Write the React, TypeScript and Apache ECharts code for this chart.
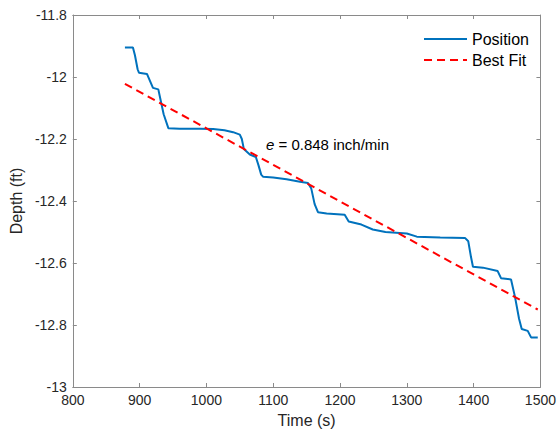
import React, { useEffect, useRef } from "react";
import * as echarts from "echarts";

const timeS = [878, 890, 893, 897, 899, 911, 915, 920, 928, 931, 936, 943, 960, 990, 1010, 1027, 1040, 1050, 1053, 1056, 1065, 1074, 1078, 1082, 1085, 1100, 1120, 1140, 1152, 1157, 1162, 1167, 1180, 1207, 1213, 1232, 1249, 1268, 1300, 1315, 1350, 1387, 1392, 1396, 1399, 1414, 1436, 1441, 1456, 1462, 1468, 1472, 1481, 1486, 1496];
const depthFt = [-11.905, -11.905, -11.93, -11.975, -11.986, -11.99, -12.01, -12.035, -12.04, -12.07, -12.12, -12.165, -12.167, -12.167, -12.168, -12.172, -12.178, -12.186, -12.2, -12.232, -12.25, -12.258, -12.285, -12.315, -12.322, -12.324, -12.33, -12.338, -12.342, -12.36, -12.41, -12.436, -12.44, -12.444, -12.466, -12.476, -12.492, -12.5, -12.505, -12.515, -12.518, -12.519, -12.53, -12.58, -12.612, -12.615, -12.626, -12.649, -12.653, -12.71, -12.78, -12.813, -12.819, -12.84, -12.84];
const fitTime = [878, 1496];
const fitDepth = [-12.022, -12.750];
const xTicks = [800, 1500, 100];
const yTicks = [-13, -11.8, 0.2];

export default function App() {
  const ref = useRef<HTMLDivElement>(null);
  useEffect(() => {
    if (!ref.current) return;
    const chart = echarts.init(ref.current, null, { renderer: "svg" });
    const font = "Liberation Sans, Arial, sans-serif";
    const axisColor = "#8a8a8a";
    const textColor = "#262626";
    const common = {
      axisLine: { show: true, lineStyle: { color: axisColor, width: 1 } },
      axisTick: { show: true, inside: true, length: 4, lineStyle: { color: axisColor } },
      splitLine: { show: false },
    };
    chart.setOption({
      animation: false,
      backgroundColor: "#ffffff",
      grid: { left: 69, right: 16, top: 15, bottom: 46, containLabel: false },
      legend: {
        left: 423,
        top: 31,
        padding: 0,
        orient: "vertical",
        itemWidth: 43,
        itemHeight: 16,
        itemGap: 5,
        itemStyle: { opacity: 0 },
        textStyle: { fontFamily: font, fontSize: 16, color: "#000" },
        data: ["Position", "Best Fit"],
      },
      xAxis: [
        {
          type: "value",
          min: xTicks[0],
          max: xTicks[1],
          interval: xTicks[2],
          position: "bottom",
          name: "Time (s)",
          nameLocation: "middle",
          nameGap: 25,
          nameTextStyle: { fontFamily: font, fontSize: 16, color: textColor },
          axisLabel: {
            fontFamily: font,
            fontSize: 14,
            color: textColor,
            margin: 6,
            formatter: (v: number) => String(v),
          },
          ...common,
        },
        {
          type: "value",
          min: xTicks[0],
          max: xTicks[1],
          interval: xTicks[2],
          position: "top",
          axisLabel: { show: false },
          ...common,
        },
      ],
      yAxis: [
        {
          type: "value",
          min: yTicks[0],
          max: yTicks[1],
          interval: yTicks[2],
          position: "left",
          name: "Depth (ft)",
          nameLocation: "middle",
          nameGap: 45,
          nameTextStyle: { fontFamily: font, fontSize: 16, color: textColor },
          axisLabel: {
            fontFamily: font,
            fontSize: 14,
            color: textColor,
            margin: 6,
            formatter: (v: number) => String(Math.round(v * 10) / 10),
          },
          ...common,
        },
        {
          type: "value",
          min: yTicks[0],
          max: yTicks[1],
          interval: yTicks[2],
          position: "right",
          axisLabel: { show: false },
          ...common,
        },
      ],
      series: [
        {
          name: "Position",
          type: "line",
          symbol: "none",
          smooth: false,
          data: timeS.map((t, i) => [t, depthFt[i]]),
          lineStyle: { color: "#0072BD", width: 2 },
          itemStyle: { color: "#0072BD" },
          z: 3,
        },
        {
          name: "Best Fit",
          type: "line",
          symbol: "none",
          data: fitTime.map((t, i) => [t, fitDepth[i]]),
          lineStyle: { color: "#FF0000", width: 2, type: [8, 5] },
          itemStyle: { color: "#FF0000" },
          z: 4,
        },
      ],
      graphic: [
        {
          type: "text",
          left: 266,
          top: 137,
          style: {
            text: "{i|e} = 0.848 inch/min",
            fontFamily: font,
            fontSize: 15,
            fill: "#000",
            rich: {
              i: { fontStyle: "italic", fontFamily: font, fontSize: 15, fill: "#000" },
            },
          },
        },
      ],
    });
    return () => chart.dispose();
  }, []);
  return <div ref={ref} style={{ width: 559, height: 433, position: "absolute", left: 0, top: 0 }} />;
}
